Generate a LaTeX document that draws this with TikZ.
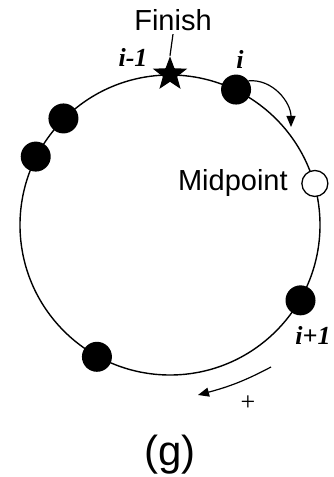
\documentclass[tikz,border=0pt]{standalone}
\usepackage{fontspec}
\setmainfont{Liberation Sans}
\newfontfamily\timesfont{Liberation Serif}
\usetikzlibrary{arrows.meta,positioning,shapes.geometric}

\begin{document}
\begin{tikzpicture}[x=1pt,y=1pt, dot/.style={circle,fill=black,inner sep=0pt,minimum size=30pt}, hollow/.style={circle,draw,fill=white,line width=1.3pt,inner sep=0pt,minimum size=26pt}, idx/.style={font=\timesfont\bfseries\itshape\fontsize{26}{28}\selectfont}, arr/.style={-{Triangle[length=11pt,width=9pt]},line width=1.2pt}]
\useasboundingbox (0,0) rectangle (333,477);
\node[draw,circle,line width=1.4pt,inner sep=0pt,minimum size=300pt] (ring) at (170,252) {};
% walkers on the ring
\node[dot] (ni) at (ring.64.7) {};
\node[dot] (na) at (ring.135) {};
\node[dot] (nb) at (ring.153) {};
\node[dot] (nc) at (ring.-119.4) {};
\node[dot] (nn) at (ring.-30) {};
\node[hollow] (mid) at (ring.16.5) {};
\node[star,star points=5,star point ratio=2.4,fill=black,inner sep=0pt,minimum size=36pt] (fin) at (ring.90) {};
% labels
\node[font=\fontsize{29}{32}\selectfont] (ftext) at (173,457) {Finish};
\draw[line width=1.2pt] (ftext.south) -- (fin.north);
\node[idx] (lprev) at (133,420) {i-1};
\node[idx] (lcur) at (240,418) {i};
\node[idx,inner sep=1pt] (lnext) at (313,142) {i+1};
\node[font=\fontsize{29}{32}\selectfont,left=10pt of mid] (mtext) {Midpoint};
\coordinate (s1) at (291,350);
\draw[arr] (ni.35) to[out=5,in=90] (s1);
\coordinate (p0) at (271,110);
\coordinate (p1) at (198,82);
\draw[arr] (p0) to[out=208,in=15] (p1);
\node[font=\timesfont\fontsize{26}{28}\selectfont] (plus) at (248,74) {+};
\node[font=\fontsize{42}{46}\selectfont] (cap) at (170,22) {(g)};
\end{tikzpicture}
\end{document}
